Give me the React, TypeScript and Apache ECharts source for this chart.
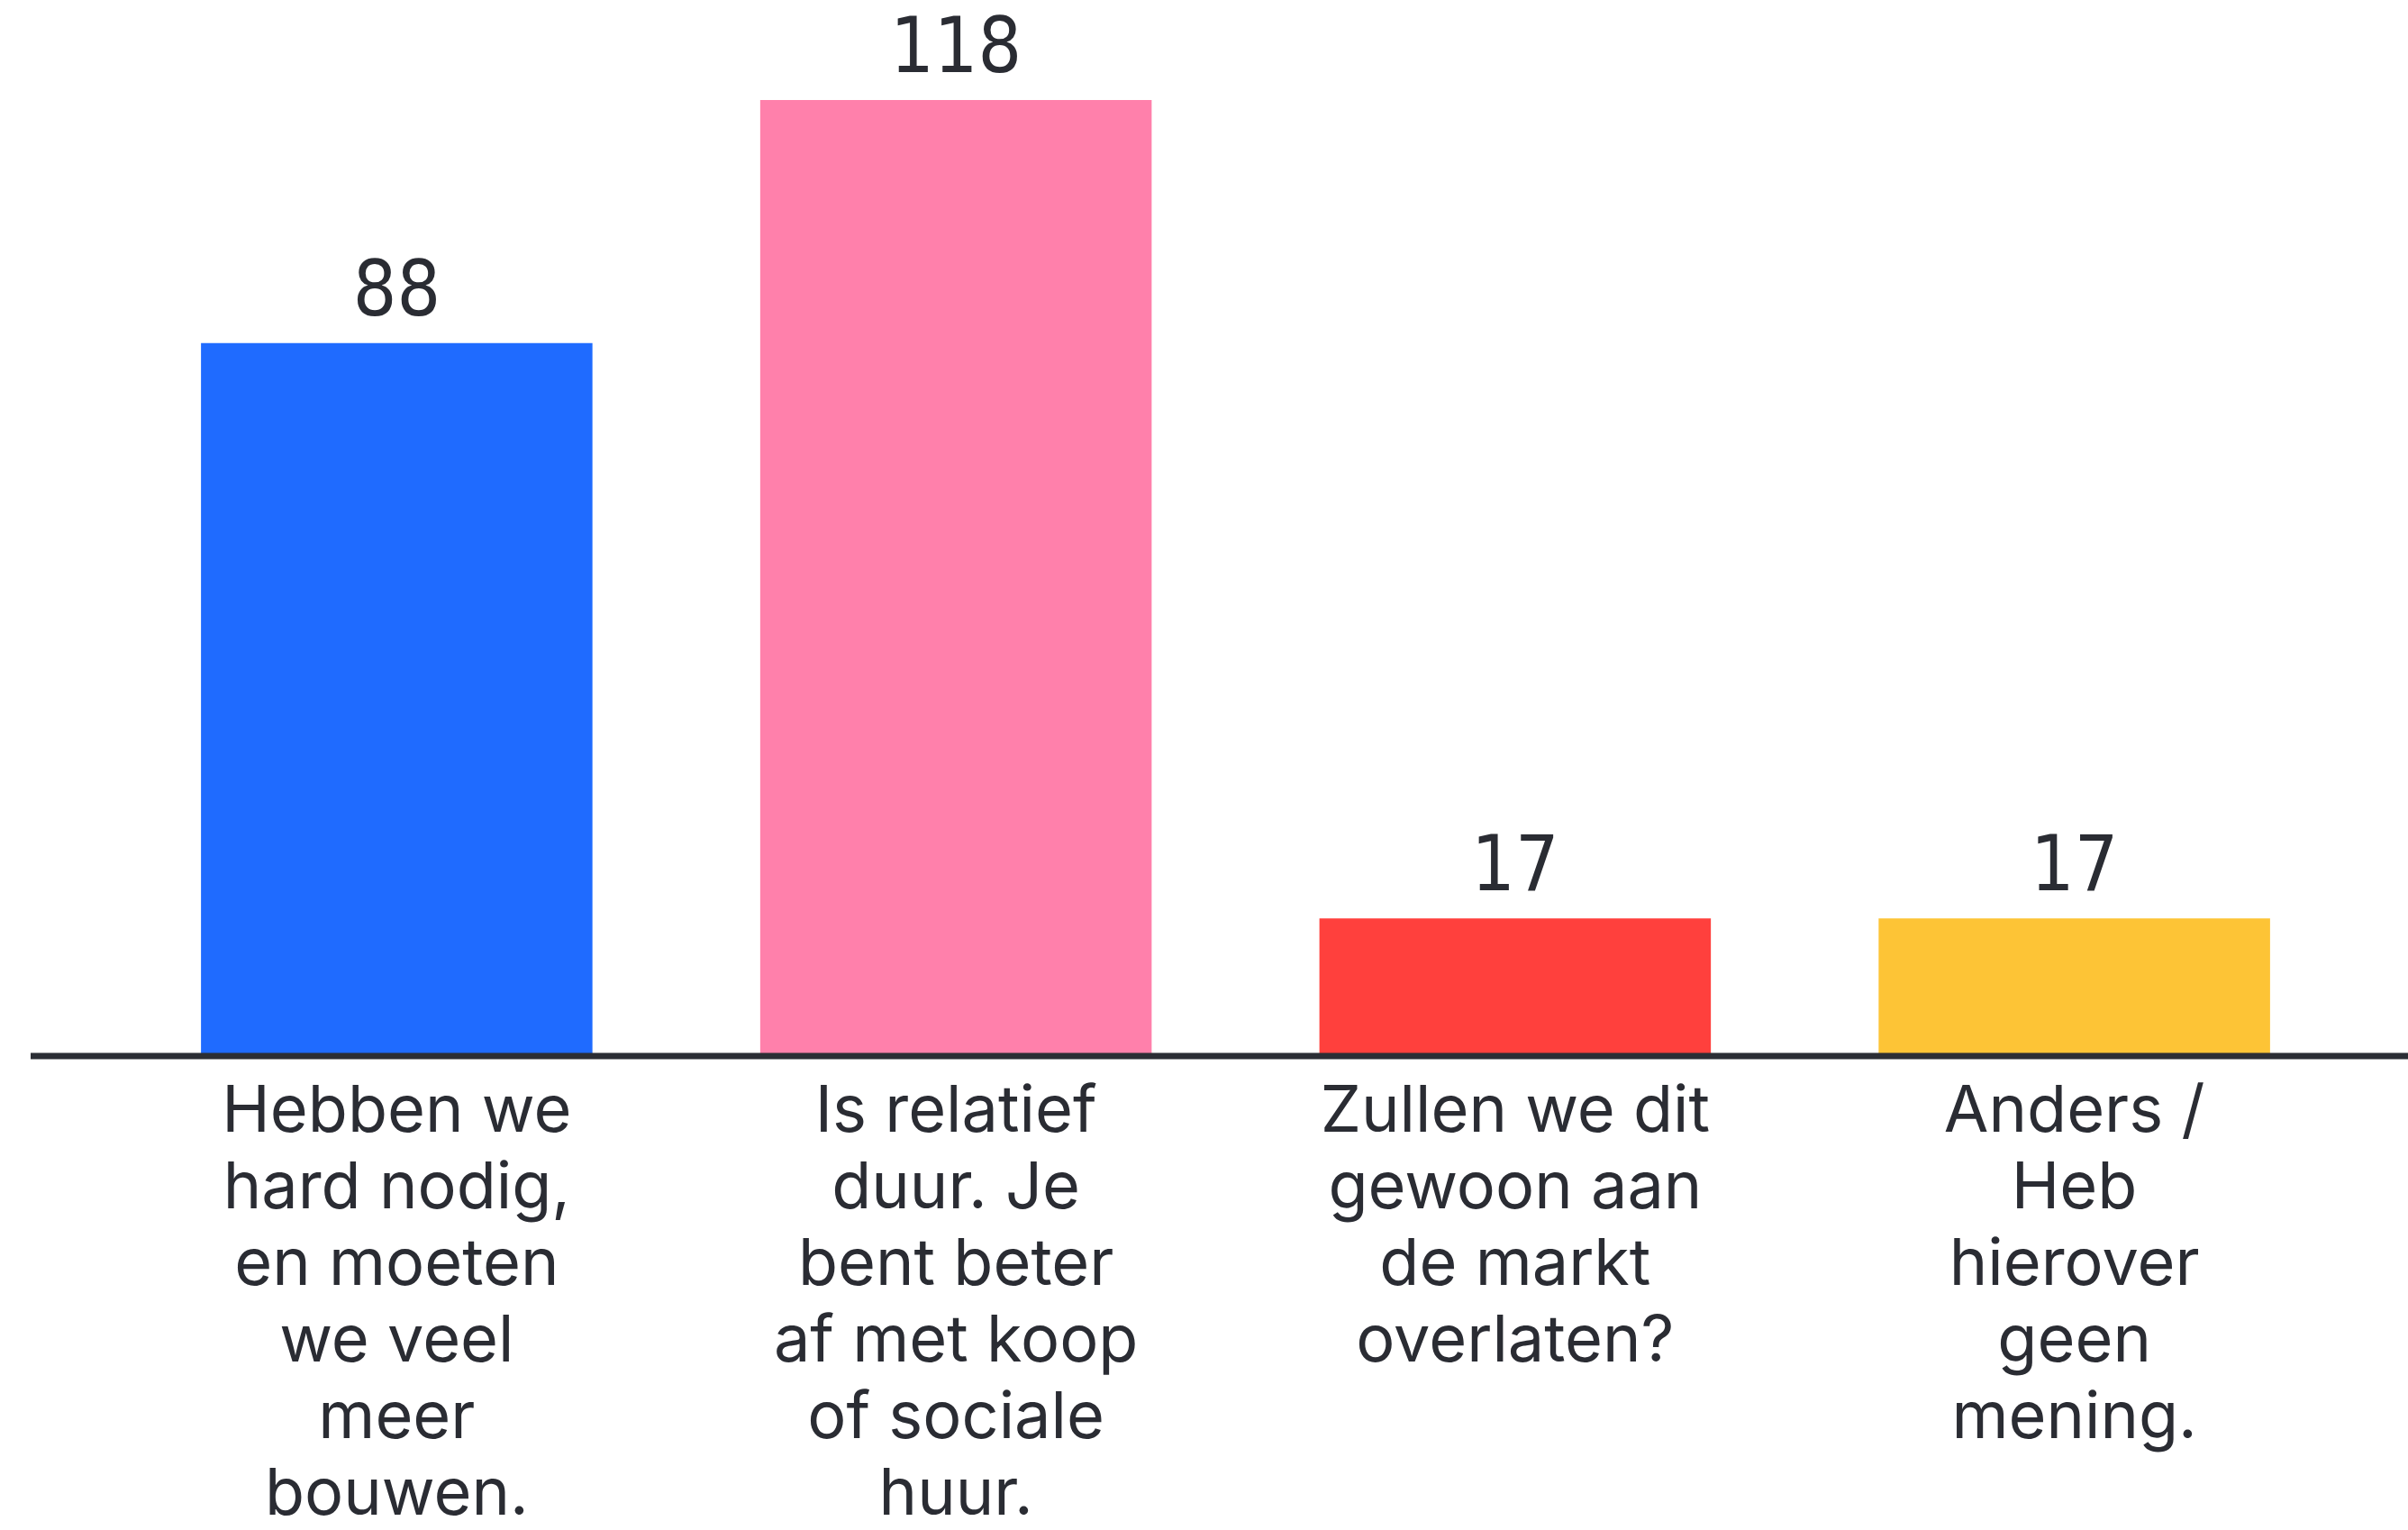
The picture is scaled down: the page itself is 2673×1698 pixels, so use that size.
import React, { useEffect, useRef } from "react";
import * as echarts from "echarts";

const categories = [
  "Hebben we\nhard nodig,\nen moeten\nwe veel\nmeer\nbouwen.",
  "Is relatief\nduur. Je\nbent beter\naf met koop\nof sociale\nhuur.",
  "Zullen we dit\ngewoon aan\nde markt\noverlaten?",
  "Anders /\nHeb\nhierover\ngeen\nmening.",
];
const values = [88, 118, 17, 17];
const colors = ["#1f6bff", "#ff80ab", "#ff403d", "#fdc436"];

const W = 2673;
const H = 1698;
const AXIS_Y = 1172;

export default function App() {
  const ref = useRef<HTMLDivElement>(null);
  useEffect(() => {
    if (!ref.current) return;
    const chart = echarts.init(ref.current, undefined, { renderer: "svg" });
    chart.setOption({
      animation: false,
      backgroundColor: "#ffffff",
      grid: {
        left: 130,
        right: 60,
        top: 111,
        bottom: H - AXIS_Y,
        containLabel: false,
        outerBoundsMode: "none",
      },
      xAxis: {
        type: "category",
        data: categories,
        axisLine: { show: false },
        axisTick: { show: false },
        axisLabel: {
          interval: 0,
          margin: 15,
          color: "#2a2c33",
          fontFamily: "Inter",
          fontSize: 72,
          lineHeight: 85,
          align: "center",
        },
      },
      yAxis: {
        type: "value",
        min: 0,
        max: 118,
        show: false,
        splitLine: { show: false },
      },
      series: [
        {
          type: "bar",
          barWidth: "70%",
          data: values.map((v, i) => ({ value: v, itemStyle: { color: colors[i] } })),
          label: {
            show: true,
            position: "top",
            distance: 18,
            color: "#2a2c33",
            fontFamily: "'DejaVu Sans Condensed', 'Liberation Sans', sans-serif",
            fontSize: 85,
          },
        },
      ],
      graphic: [
        {
          type: "line",
          z: 100,
          shape: { x1: 34, y1: AXIS_Y, x2: W, y2: AXIS_Y },
          style: { stroke: "#2b2e35", lineWidth: 7 },
        },
      ],
    });
    return () => chart.dispose();
  }, []);
  return (
    <div
      ref={ref}
      style={{ position: "fixed", left: 0, top: 0, width: W, height: H }}
    />
  );
}
